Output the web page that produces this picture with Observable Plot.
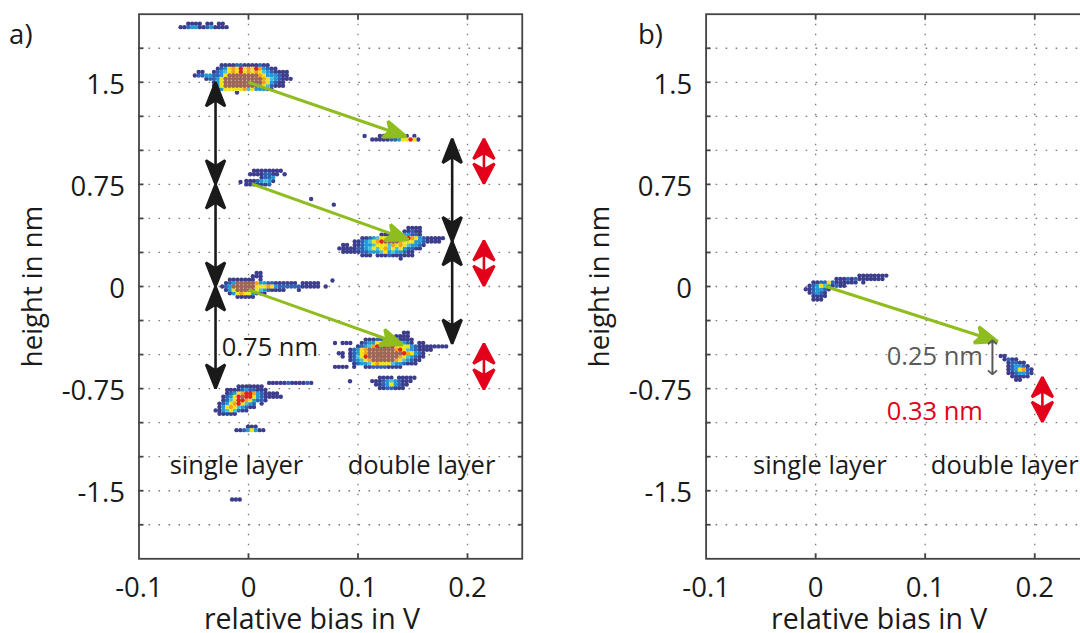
<!DOCTYPE html>
<html><head><meta charset="utf-8">
<script src="https://cdn.jsdelivr.net/npm/d3@7"></script>
<script src="https://cdn.jsdelivr.net/npm/@observablehq/plot@0.6"></script>
<style>
html,body{margin:0;padding:0;background:#fff;}
#wrap{position:relative;width:1080px;height:633px;overflow:hidden;background:#fff;}
#pa{position:absolute;left:0;top:0;width:540px;}
#pb{position:absolute;left:540px;top:0;width:560px;}
#wrap svg{max-width:none !important;height:633px !important;}
</style></head><body><div id="wrap"><div id="pa"></div><div id="pb"></div></div>
<script>
// ---------- scales / ticks ----------
const xDomain = [-0.1, 0.25];
const yDomain = [-2, 2];
const xTickLabels = [-0.1, 0, 0.1, 0.2];
const xGrid = [0, 0.1, 0.2];
const yTickLabels = [1.5, 0.75, 0, -0.75, -1.5];
const yGrid = [1.75, 1.5, 1.25, 1, 0.75, 0.5, 0.25, 0, -0.25, -0.5, -0.75, -1, -1.25, -1.5, -1.75];
const levels = [1, 2, 3, 4, 5, 6, 7, 8];
const levelColors = ["#3d3d8d", "#2f63b5", "#229ad6", "#4cc0dc", "#f2e31b", "#f7a21c", "#e2231f", "#9e6656"];

// histogram cell size (V, nm)
const DX = 0.0035, DY = 0.025;

// ---------- panel a clusters (each char = density level, '.' = empty) ----------
const clusterA1 = {x0: -0.062, y0: 1.93, rows: [
"..1111.11.11.",
"1123311231111"]};
const clusterA2 = {x0: -0.049, y0: 1.625, rows: [
".......1111221111211.....",
"......1235657565763211...",
".11..12345657565654321111",
"1223322358888888865333211",
"...12235888888888865432111",
".....1358888888888653211.",
".....1358888888888542111.",
"......135555564533321....",
"...........1............."]};
const clusterA3 = {x0: 0.106, y0: 1.105, rows: [
"1...11111111.1.",
"..1111122355751"]};
const clusterA4 = {x0: -0.002, y0: 0.85, rows: [
"..11111111.",
".11112211.1",
"....1223...",
"11123431...",
"1111112...."]};
const clusterA5 = {x0: 0.083, y0: 0.43, rows: [
"..................1111......",
".................11211......",
"...........11112233221......",
"......1123455667867653211111",
"....11234567888865553321111.",
".11.1123345554656543321.....",
"1111122345456454532211......",
".1111122333453433211........",
"......111.1112111111........",
"................1..........."]};
const clusterA6 = {x0: -0.024, y0: 0.10, rows: [
".........11.................",
"........111.................",
"..1111111.1.................",
".1238888863322111111.11111..",
"12388888855565322222211111.1",
".1358888854321111...1.......",
"..1356553211................",
"....11111..................."]};
const clusterA7 = {x0: 0.079, y0: -0.34, rows: [
"..................11..........",
"................1111..........",
"........1112233341111.........",
"1.111..12335567754321.11......",
"......123467878755553211111111",
"....1235688888886754321111....",
".11.12356888888888765321......",
"..1.12457888888886543211......",
"....1234568888886543211.......",
".....12334565554332111........",
"1111.1..1122221111............"]};
const clusterA8 = {x0: 0.113, y0: -0.67, rows: [
"..1111.11111",
"11123432111.",
".112353211..",
"..1122111..."]};
const clusterA9 = {x0: -0.030, y0: -0.735, rows: [
"......1111111.....",
"...11112322111....",
"...12356776321111.",
"..1235787753211111",
"..124577653221....",
".1235675432.1.....",
".1356543211.......",
"113454211.........",
".11111............"]};
const clusterA9b = {x0: 0.0188, y0: -0.708, rows: [
"111112111121"]};
const clusterA10 = {x0: -0.011, y0: -1.03, rows: [
"...111..",
"11235311"]};
const clusterA11 = {x0: -0.015, y0: -1.565, rows: [
"111"]};
const strayA = [[-0.0073, 0.768], [0.0572, 0.643], [0.0779, 0.601], [0.0767, 0.044], [0.0927, -0.696]];

// ---------- panel b clusters ----------
const clusterB1 = {x0: -0.009, y0: 0.08, rows: [
"..............11111111.",
"........1112121111111..",
"..112252111111.1.......",
".1235431211............",
"1123321................",
".12321.................",
"..1111.................",
"..111.................."]};
const clusterB2 = {x0: 0.169, y0: -0.51, rows: [
"11.......",
".1211....",
"..12211..",
"..123321.",
"..1235621",
"..1123321",
"...11111.",
"....11..."]};

// ---------- arrows ----------
const greenA = [
  {x1: 0.0, y1: 1.5, x2: 0.1439, y2: 1.102},
  {x1: 0.0031, y1: 0.754, x2: 0.146, y2: 0.343},
  {x1: 0.0, y1: -0.024, x2: 0.1408, y2: -0.428}];
const blackA = [
  {x1: -0.0301, y1: 1.5, x2: -0.0301, y2: 0.75},
  {x1: -0.0301, y1: 0.75, x2: -0.0301, y2: 0.0},
  {x1: -0.0301, y1: 0.0, x2: -0.0301, y2: -0.75},
  {x1: 0.186, y1: 1.085, x2: 0.186, y2: 0.333},
  {x1: 0.186, y1: 0.333, x2: 0.186, y2: -0.42}];
const redA = [
  {x1: 0.215, y1: 1.085, x2: 0.215, y2: 0.755},
  {x1: 0.215, y1: 0.338, x2: 0.215, y2: 0.005},
  {x1: 0.215, y1: -0.42, x2: 0.215, y2: -0.755}];
const greenB = [{x1: 0.0093, y1: 0.0, x2: 0.166, y2: -0.404}];
const grayB = [{x1: 0.1614, y1: -0.395, x2: 0.1614, y2: -0.645}];
const redB = [{x1: 0.207, y1: -0.665, x2: 0.207, y2: -0.995}];

// ---------- texts ----------
const labelsA = [
  {text: "single layer", x: -0.011, y: -1.376},
  {text: "double layer", x: 0.158, y: -1.376},
  {text: "0.75 nm", x: 0.0196, y: -0.507}];
const labelsB = [
  {text: "single layer", x: 0.0038, y: -1.376},
  {text: "double layer", x: 0.1726, y: -1.376}];
const grayLabelB = [{text: "0.25 nm", x: 0.1088, y: -0.58}];
const redLabelB = [{text: "0.33 nm", x: 0.1088, y: -0.984}];
const xTitle = [{text: "relative bias in V", x: 0.058}];
const yTitle = "height in nm";

// ---------- helpers ----------
function expand(clusters, stray) {
  const pts = [];
  for (const c of clusters) {
    c.rows.forEach((row, r) => {
      [...row].forEach((ch, k) => {
        if (ch !== "." && ch !== " ") pts.push({x: c.x0 + k * DX, y: c.y0 - r * DY, level: +ch});
      });
    });
  }
  for (const [x, y] of stray || []) pts.push({x, y, level: 1});
  return pts.sort((a, b) => a.level - b.level);
}
const ns = "http://www.w3.org/2000/svg";
function headMarker(L, W, N) {
  return (color) => {
    const m = document.createElementNS(ns, "marker");
    const a = {viewBox: `${-L} ${-W / 2} ${L} ${W}`, markerWidth: L, markerHeight: W, markerUnits: "userSpaceOnUse",
      refX: 0, refY: 0, orient: "auto-start-reverse", overflow: "visible"};
    for (const k in a) m.setAttribute(k, a[k]);
    const p = document.createElementNS(ns, "path");
    p.setAttribute("d", `M0,0L${-L},${-W / 2}L${-L + N},0L${-L},${W / 2}Z`);
    p.setAttribute("fill", color);
    m.appendChild(p);
    return m;
  };
}
function openMarker(L, W) {
  return (color) => {
    const m = document.createElementNS(ns, "marker");
    const a = {viewBox: `${-L - 2} ${-W / 2 - 2} ${L + 4} ${W + 4}`, markerWidth: L + 4, markerHeight: W + 4,
      markerUnits: "userSpaceOnUse", refX: 0, refY: 0, orient: "auto-start-reverse", overflow: "visible"};
    for (const k in a) m.setAttribute(k, a[k]);
    const p = document.createElementNS(ns, "path");
    p.setAttribute("d", `M${-L},${-W / 2}L0,0L${-L},${W / 2}`);
    p.setAttribute("fill", "none");
    p.setAttribute("stroke", color);
    p.setAttribute("stroke-width", 1.8);
    m.appendChild(p);
    return m;
  };
}
const GREEN = "#8fbd1f", BLACK = "#1a1a1a", RED = "#e2001a", GRAY = "#5a5a5a";
const linkXY = {x1: "x1", y1: "y1", x2: "x2", y2: "y2"};
const fmt = (d) => String(d);
const FONT = "'Open Sans', sans-serif";

function basePlot({width, marginLeft, marginRight, points, extra, labelOffset}) {
  return Plot.plot({
    width, height: 633, marginTop: 13.7, marginBottom: 74.7, marginLeft, marginRight,
    x: {domain: xDomain}, y: {domain: yDomain},
    color: {type: "ordinal", domain: levels, range: levelColors},
    style: {fontFamily: FONT, fontSize: "27.5px", color: "#1a1a1a", background: "transparent", overflow: "visible", maxWidth: "none"},
    marks: [
      Plot.gridY(yGrid, {stroke: "#7a7a7a", strokeOpacity: 1, strokeWidth: 1.3, strokeDasharray: "1.6 8.4"}),
      Plot.gridX(xGrid, {stroke: "#7a7a7a", strokeOpacity: 1, strokeWidth: 1.3, strokeDasharray: "1.6 8.4"}),
      Plot.dot(points, {x: "x", y: "y", fill: "level", r: 2.2}),
      ...extra,
      Plot.frame({stroke: "#444", strokeWidth: 1.8}),
      Plot.axisY(yTickLabels, {anchor: "left", tickSize: 0, tickPadding: 14, tickFormat: fmt, fontSize: 27.5, dy: 2.5,
        label: yTitle, labelAnchor: "center", labelOffset, labelArrow: "none", fill: "#1a1a1a"}),
      Plot.axisY(yGrid, {anchor: "left", tickSize: -5, tickFormat: () => "", label: null, stroke: "#444", strokeWidth: 1.8}),
      Plot.axisY(yGrid, {anchor: "right", tickSize: -5, tickFormat: () => "", label: null, stroke: "#444", strokeWidth: 1.8}),
      Plot.axisX(xTickLabels, {anchor: "bottom", tickSize: 0, tickPadding: 19, tickFormat: fmt, fontSize: 27.5, label: null, fill: "#1a1a1a"}),
      Plot.axisX(xGrid, {anchor: "bottom", tickSize: -5, tickFormat: () => "", label: null, stroke: "#444", strokeWidth: 1.8}),
      Plot.axisX(xGrid, {anchor: "top", tickSize: -5, tickFormat: () => "", label: null, stroke: "#444", strokeWidth: 1.8}),
      Plot.text(xTitle, {x: "x", text: "text", frameAnchor: "bottom", dy: 70, lineAnchor: "bottom", fontSize: 28.5, fill: "#1a1a1a"})
    ]
  });
}

// ---------- panel a ----------
const pointsA = expand([clusterA1, clusterA2, clusterA3, clusterA4, clusterA5, clusterA6, clusterA7, clusterA8, clusterA9, clusterA9b, clusterA10, clusterA11], strayA);
const plotA = basePlot({
  width: 540, marginLeft: 138.5, marginRight: 18.25, points: pointsA, labelOffset: 117,
  extra: [
    Plot.link(greenA, {...linkXY, stroke: GREEN, strokeWidth: 3, markerEnd: headMarker(22, 17, 5)}),
    Plot.link(blackA, {...linkXY, stroke: BLACK, strokeWidth: 2.6, markerStart: headMarker(24, 19, 6), markerEnd: headMarker(24, 19, 6)}),
    Plot.link(redA, {...linkXY, stroke: RED, strokeWidth: 2.6, markerStart: headMarker(20, 21, 6), markerEnd: headMarker(20, 21, 6)}),
    Plot.text(labelsA, {x: "x", y: "y", text: "text", lineAnchor: "bottom", fontSize: 25.5, fill: BLACK}),
    Plot.text(["a)"], {frameAnchor: "top-left", text: (d) => d, dx: -129.9, dy: 29.6, textAnchor: "start", lineAnchor: "bottom", fontSize: 27.5, fill: BLACK})
  ]
});
document.getElementById("pa").appendChild(plotA);

// ---------- panel b ----------
const pointsB = expand([clusterB1, clusterB2]);
const plotB = basePlot({
  width: 560, marginLeft: 165.6, marginRight: 11, points: pointsB, labelOffset: 116.2,
  extra: [
    Plot.link(greenB, {...linkXY, stroke: GREEN, strokeWidth: 3, markerEnd: headMarker(22, 17, 5)}),
    Plot.link(grayB, {...linkXY, stroke: GRAY, strokeWidth: 2, markerStart: openMarker(4, 9), markerEnd: openMarker(4, 9)}),
    Plot.link(redB, {...linkXY, stroke: RED, strokeWidth: 2.6, markerStart: headMarker(20, 21, 6), markerEnd: headMarker(20, 21, 6)}),
    Plot.text(labelsB, {x: "x", y: "y", text: "text", lineAnchor: "bottom", fontSize: 25.5, fill: BLACK}),
    Plot.text(grayLabelB, {x: "x", y: "y", text: "text", lineAnchor: "bottom", fontSize: 25.5, fill: GRAY}),
    Plot.text(redLabelB, {x: "x", y: "y", text: "text", lineAnchor: "bottom", fontSize: 25.5, fill: RED}),
    Plot.text(["b)"], {frameAnchor: "top-left", text: (d) => d, dx: -68.1, dy: 29.3, textAnchor: "start", lineAnchor: "bottom", fontSize: 27.5, fill: BLACK})
  ]
});
document.getElementById("pb").appendChild(plotB);
</script></body></html>
